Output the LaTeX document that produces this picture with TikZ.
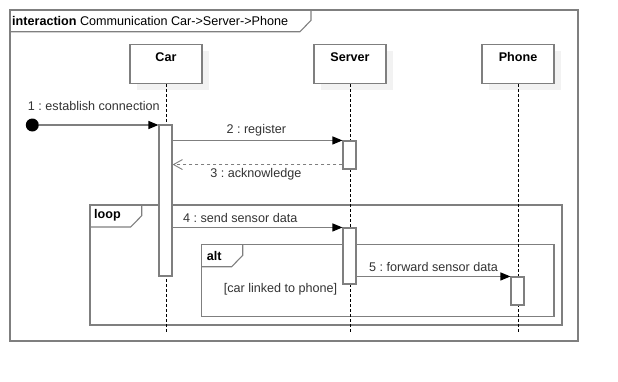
\documentclass[tikz,border=0pt]{standalone}
\usepackage{fontspec}
\setmainfont{Liberation Sans}
\usetikzlibrary{arrows.meta,shadows}

\definecolor{framegray}{HTML}{7F7F7F}
\definecolor{labelgray}{HTML}{333333}
\definecolor{shadowgray}{HTML}{F2F2F2}
\frenchspacing

\begin{document}
\begin{tikzpicture}[x=1pt,y=-1pt,
  font=\fontsize{12.6}{15}\selectfont,
  frameline/.style={draw=framegray,line width=1.1pt},
  participant/.style={frameline,fill=white,minimum width=72pt,minimum height=39pt,inner sep=0pt,
    general shadow={fill=shadowgray,shadow xshift=7pt,shadow yshift=-7pt}},
  partname/.style={font=\fontsize{12.6}{15}\selectfont\bfseries,anchor=north,inner sep=0pt,yshift=-8.5pt},
  activation/.style={frameline,fill=white,minimum width=13pt,inner sep=0pt},
  lifeline/.style={draw=black,line width=0.8pt,dash pattern=on 3pt off 2pt},
  msg/.style={draw=framegray,line width=1.1pt,-{Triangle[length=10pt,width=8pt,color=black]}},
  reply/.style={draw=framegray,line width=1.1pt,dash pattern=on 3pt off 3pt,
    -{Straight Barb[length=9pt,width=10pt,line width=0.9pt]}},
  msglabel/.style={text=labelgray,inner sep=0pt},
  fragname/.style={font=\fontsize{12.6}{15}\selectfont\bfseries,inner sep=0pt,anchor=west}
]
\useasboundingbox (0,0) rectangle (618,381);

% interaction frame with its name tab
\draw[frameline] (10,10) rectangle (578,341);
\draw[frameline] (10,31.7) -- (300,31.7) -- (311,20.3) -- (311,10);
\node[anchor=west,inner sep=0pt] (title) at (12,20.7)
  {\textbf{interaction} Communication Car->Server->Phone};

% combined fragments
\draw[frameline] (90,205) rectangle (562,325);
\draw[frameline] (90,227) -- (130.7,227) -- (141.7,215.7) -- (141.7,205);
\node[fragname] (loop) at (94,215.7) {loop};

\draw[frameline] (201.7,244.7) rectangle (554,316.7);
\draw[frameline] (201.7,266.7) -- (231.7,266.7) -- (242.7,255.3) -- (242.7,244.7);
\node[fragname] (alt) at (206.7,255.7) {alt};
\node[msglabel] (guard) at (280.5,289) {[car linked to phone]};

% participants
\node[participant] (car) at (166,63.8) {};
\node[partname] at (car.north) {Car};
\node[participant] (server) at (350,63.8) {};
\node[partname] at (server.north) {Server};
\node[participant] (phone) at (518,63.8) {};
\node[partname] at (phone.north) {Phone};

% lifelines
\coordinate (carend) at (166,333);
\coordinate (serverend) at (350,333);
\coordinate (phoneend) at (518,333);
\draw[lifeline] (car.south) -- (carend);
\draw[lifeline] (server.south) -- (serverend);
\draw[lifeline] (phone.south) -- (phoneend);

% activation bars
\node[activation,minimum height=151pt] (caract) at (165.5,200.5) {};
\node[activation,minimum height=28pt] (sact1) at (349.5,155) {};
\node[activation,minimum height=56pt] (sact2) at (349.5,256) {};
\node[activation,minimum height=28pt] (pact) at (517.5,291) {};

% found message
\node[circle,fill=black,minimum size=13pt,inner sep=0pt] (start) at (32.3,125) {};
\draw[msg] (start.east) -- (start.east -| caract.west);
\node[msglabel] (l1) at (93.8,106) {1 : establish connection};

% register
\coordinate (m2s) at (sact1.north west -| caract.east);
\draw[msg] (m2s) -- (sact1.north west);
\node[msglabel] (l2) at (256.3,130.7) {2 : register};

% acknowledge
\coordinate (m3s) at ([yshift=5pt]sact1.south west);
\coordinate (m3e) at (m3s -| caract.east);
\draw[reply] (m3s) -- (m3e);
\node[msglabel] (l3) at (255.8,174) {3 : acknowledge};

% send sensor data
\coordinate (m4s) at (sact2.north west -| caract.east);
\draw[msg] (m4s) -- (sact2.north west);
\node[msglabel] (l4) at (240.2,217.7) {4 : send sensor data};

% forward sensor data
\coordinate (m5s) at (pact.north west -| sact2.east);
\draw[msg] (m5s) -- (pact.north west);
\node[msglabel] (l5) at (433.5,266.7) {5 : forward sensor data};
\end{tikzpicture}
\end{document}
